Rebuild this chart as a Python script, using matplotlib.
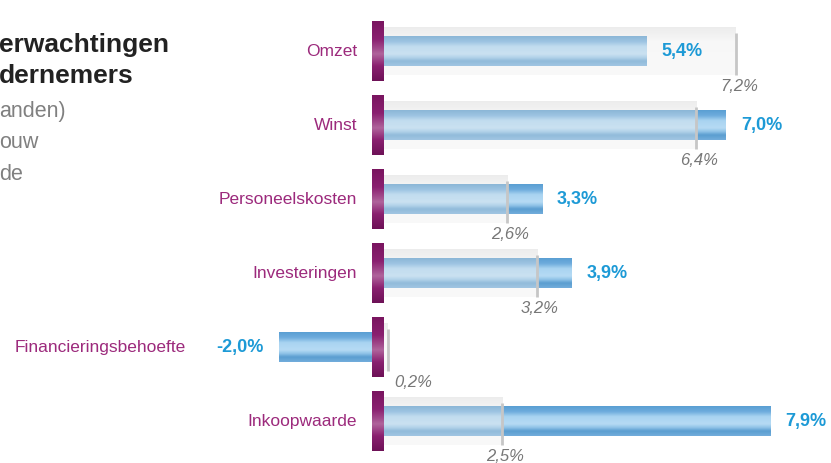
import numpy as np
import matplotlib
matplotlib.use("Agg")
import matplotlib.pyplot as plt
from matplotlib.colors import LinearSegmentedColormap

categories = ["Omzet", "Winst", "Personeelskosten", "Investeringen",
              "Financieringsbehoefte", "Inkoopwaarde"]
current = [5.4, 7.0, 3.3, 3.9, -2.0, 7.9]
previous = [7.2, 6.4, 2.6, 3.2, 0.2, 2.5]

def fmt(v):
    return f"{v:.1f}".replace(".", ",") + "%"

W, H = 831, 464
fig = plt.figure(figsize=(W / 100, H / 100), dpi=100)
ax = fig.add_axes([0, 0, 1, 1])
ax.set_axis_off()

zero_px, scale = 378.0, 49.7
row0, step = 52.0, 74.0
xl = (-zero_px / scale, (W - zero_px) / scale)
yl = ((H - row0) / step, -row0 / step)

font = ["Liberation Sans", "DejaVu Sans"]
purple_txt = "#9c2a7c"
blue_txt = "#1d9ad6"

blue_cmap = LinearSegmentedColormap.from_list("b", [
    (0.0, "#5a9fd3"), (0.18, "#6eacdd"), (0.35, "#a9d4f1"), (0.6, "#b6dbf4"),
    (0.72, "#8fc2e7"), (0.84, "#5a9dd0"), (1.0, "#72addb")])
purple_cmap = LinearSegmentedColormap.from_list("p", [
    (0.0, "#7a1560"), (0.3, "#8a2070"), (0.55, "#b0649c"),
    (0.75, "#8a2070"), (1.0, "#6e1257")])
ghost_cmap = LinearSegmentedColormap.from_list("g", [
    (0.0, "#cfcfcf"), (0.18, "#dedede"), (0.3, "#ececec"), (1.0, "#efefef")])
grad = np.linspace(0, 1, 64).reshape(-1, 1)

h_bar, h_ghost, h_purple = 0.40, 0.64, 0.81
pw = 12 / scale

for i, (cat, cur, prev) in enumerate(zip(categories, current, previous)):
    x0, x1 = min(0, cur), max(0, cur)
    ax.imshow(grad, cmap=blue_cmap, aspect="auto", interpolation="bicubic",
              extent=(x0, x1, i + h_bar / 2, i - h_bar / 2), zorder=2)
    g0, g1 = min(0, prev), max(0, prev)
    ax.imshow(grad, cmap=ghost_cmap, aspect="auto", interpolation="bicubic", alpha=0.38,
              extent=(g0, g1, i + h_ghost / 2, i - h_ghost / 2), zorder=3)
    ax.plot([prev, prev], [i - h_ghost / 2 + 0.08, i + h_ghost / 2], color="#c6c6c6", lw=2,
            zorder=4, solid_capstyle="butt")
    ax.imshow(grad, cmap=purple_cmap, aspect="auto", interpolation="bicubic",
              extent=(-pw / 2, pw / 2, i + h_purple / 2, i - h_purple / 2), zorder=5)
    if cur >= 0:
        ax.text(-21 / scale, i, cat, ha="right", va="center",
                fontsize=12.5, color=purple_txt, family=font)
        ax.text(cur + 0.3, i, fmt(cur), ha="left", va="center", fontsize=13,
                fontweight="bold", color=blue_txt, family=font)
    else:
        ax.text(cur - 0.3, i, fmt(cur), ha="right", va="center", fontsize=13,
                fontweight="bold", color=blue_txt, family=font)
        ax.text(cur - 1.86, i, cat, ha="right", va="center",
                fontsize=12.5, color=purple_txt, family=font)
    ax.text(max(prev, 0.65) + 0.06, i + 0.47, fmt(prev), ha="center", va="center",
            fontsize=12, style="italic", color="#777777", family=font)

ax.set_xlim(*xl)
ax.set_ylim(*yl)

def px(x, y):
    return x / W, 1 - y / H

fig.text(*px(-1, 52), "erwachtingen", fontsize=19, fontweight="bold", color="#222222",
         family=font, va="baseline", ha="left")
fig.text(*px(-1, 83), "dernemers", fontsize=19, fontweight="bold", color="#222222",
         family=font, va="baseline", ha="left")
for y, s in [(117, "anden)"), (148, "ouw"), (180, "de")]:
    fig.text(*px(-1, y), s, fontsize=15.5, color="#808080",
             family=font, va="baseline", ha="left")

fig.savefig("out.png", dpi=100)
